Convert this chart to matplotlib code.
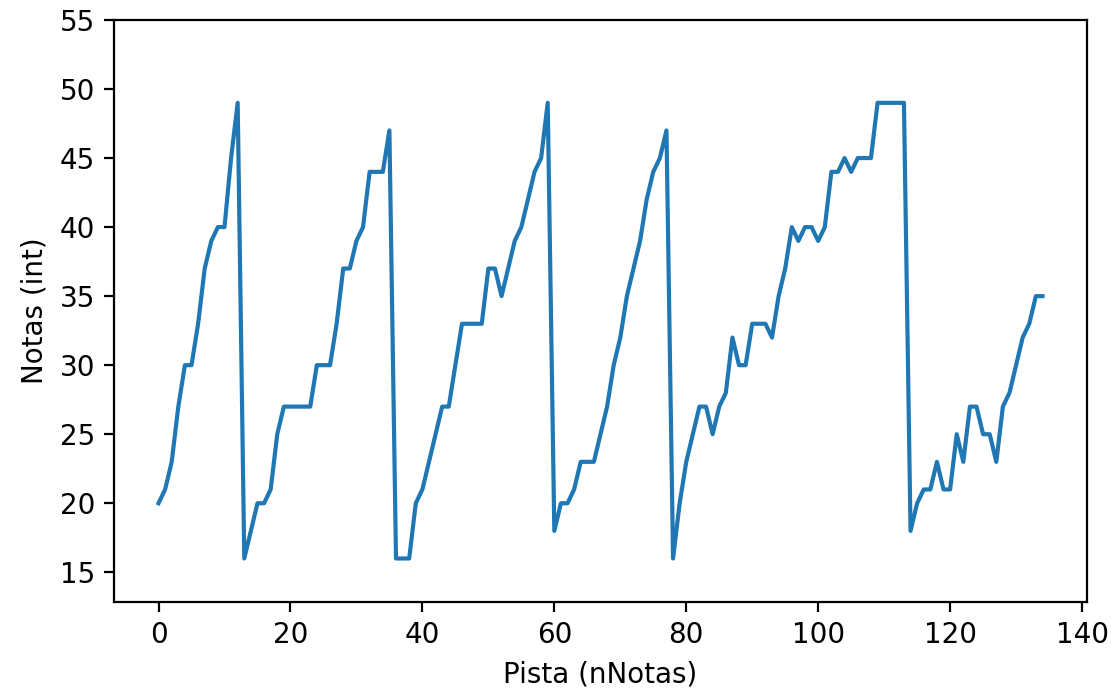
import matplotlib
matplotlib.use("Agg")
import matplotlib.pyplot as plt

# Nota de cada posición de la pista
notas = [
    20, 21, 23, 27, 30, 30, 33, 37, 39, 40, 40, 45, 49,
    16, 18, 20, 20, 21, 25, 27, 27, 27, 27, 27, 30, 30, 30, 33, 37, 37,
    39, 40, 44, 44, 44, 47,
    16, 16, 16, 20, 21, 23, 25, 27, 27, 30, 33, 33, 33, 33, 37, 37, 35,
    37, 39, 40, 42, 44, 45, 49,
    18, 20, 20, 21, 23, 23, 23, 25, 27, 30, 32, 35, 37, 39, 42, 44, 45, 47,
    16, 20, 23, 25, 27, 27, 25, 27, 28, 32, 30, 30, 33, 33, 33, 32, 35, 37,
    40, 39, 40, 40, 39, 40, 44, 44, 45, 44, 45, 45, 45, 49, 49, 49, 49, 49,
    18, 20, 21, 21, 23, 21, 21, 25, 23, 27, 27, 25, 25, 23, 27, 28, 30, 32,
    33, 35, 35,
]
posiciones = list(range(len(notas)))

fig = plt.figure(figsize=(1111 / 200, 689 / 200), dpi=200)
ax = fig.add_axes([0.1029, 0.1267, 0.8752, 0.8443])
ax.plot(posiciones, notas, color="#1f77b4", linewidth=1.5)
ax.set_ylim(12.87, 55)
ax.set_xlabel("Pista (nNotas)")
ax.set_ylabel("Notas (int)")

fig.savefig("out.png", dpi=200)
